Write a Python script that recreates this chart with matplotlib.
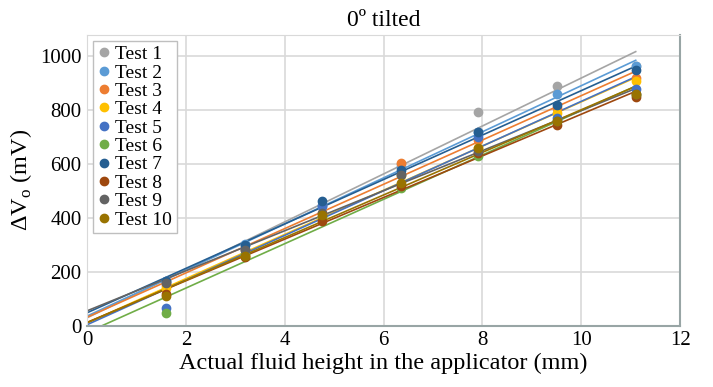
import numpy as np
import matplotlib.pyplot as plt

plt.rcParams['font.family'] = ['Liberation Serif', 'DejaVu Serif']

# fluid heights (mm)
heights = [1.6, 3.2, 4.75, 6.35, 7.9, 9.5, 11.1]

test_names = ["Test 1", "Test 2", "Test 3", "Test 4", "Test 5",
              "Test 6", "Test 7", "Test 8", "Test 9", "Test 10"]
test_colors = ["#A5A5A5", "#5B9BD5", "#ED7D31", "#FFC000", "#4472C4",
               "#70AD47", "#255E91", "#9E480E", "#636363", "#997300"]

# delta Vo (mV) per test
test1 = [160, 300, 450, 600, 795, 890, 965]
test2 = [165, 305, 445, 590, 720, 860, 965]
test3 = [150, 280, 420, 605, 690, 810, 920]
test4 = [140, 260, 400, 560, 660, 790, 910]
test5 = [65, 285, 445, 565, 700, 770, 880]
test6 = [48, 268, 405, 512, 632, 762, 858]
test7 = [165, 300, 465, 580, 720, 820, 950]
test8 = [120, 255, 390, 520, 640, 745, 850]
test9 = [160, 280, 420, 560, 650, 760, 860]
test10 = [110, 260, 410, 530, 660, 760, 860]
all_tests = [test1, test2, test3, test4, test5, test6, test7, test8, test9, test10]

fig = plt.figure(figsize=(7.13, 3.87), dpi=100)
ax = fig.add_axes([0.122, 0.158, 0.832, 0.752])

x_line = np.array([0, heights[-1]])
for nom, col, vals in zip(test_names, test_colors, all_tests):
    ax.plot(heights, vals, 'o', color=col, markersize=6, label=nom, zorder=3)
    a, b = np.polyfit(heights, vals, 1)  # linear trendline
    ax.plot(x_line, a * x_line + b, '-', color=col, lw=1.2, zorder=2)

ax.set_xlim(0, 12)
ax.set_ylim(0, 1080)
ax.set_xticks(range(0, 13, 2))
ax.set_yticks(range(0, 1001, 200))
ax.grid(True, color="#D9D9D9", lw=1.2)
ax.set_axisbelow(True)
ax.tick_params(length=0, labelsize=15, pad=4)

for s in ["top", "left"]:
    ax.spines[s].set_color("#D9D9D9")
for s in ["bottom", "right"]:
    ax.spines[s].set_color("#98A5A5")
    ax.spines[s].set_linewidth(1.5)

ax.set_title("0º tilted", fontsize=17, pad=6)
ax.set_xlabel("Actual fluid height in the applicator (mm)", fontsize=17.5, labelpad=2)
ax.set_ylabel("ΔV$_\\mathregular{o}$ (mV)", fontsize=17.5, labelpad=4)

leg = ax.legend(loc="upper left", fontsize=14, handlelength=0.6, handletextpad=0.3,
                labelspacing=0.04, borderpad=0.25, fancybox=False, framealpha=1,
                edgecolor="#BFBFBF", borderaxespad=0.3)

fig.savefig("out.png", dpi=100)
